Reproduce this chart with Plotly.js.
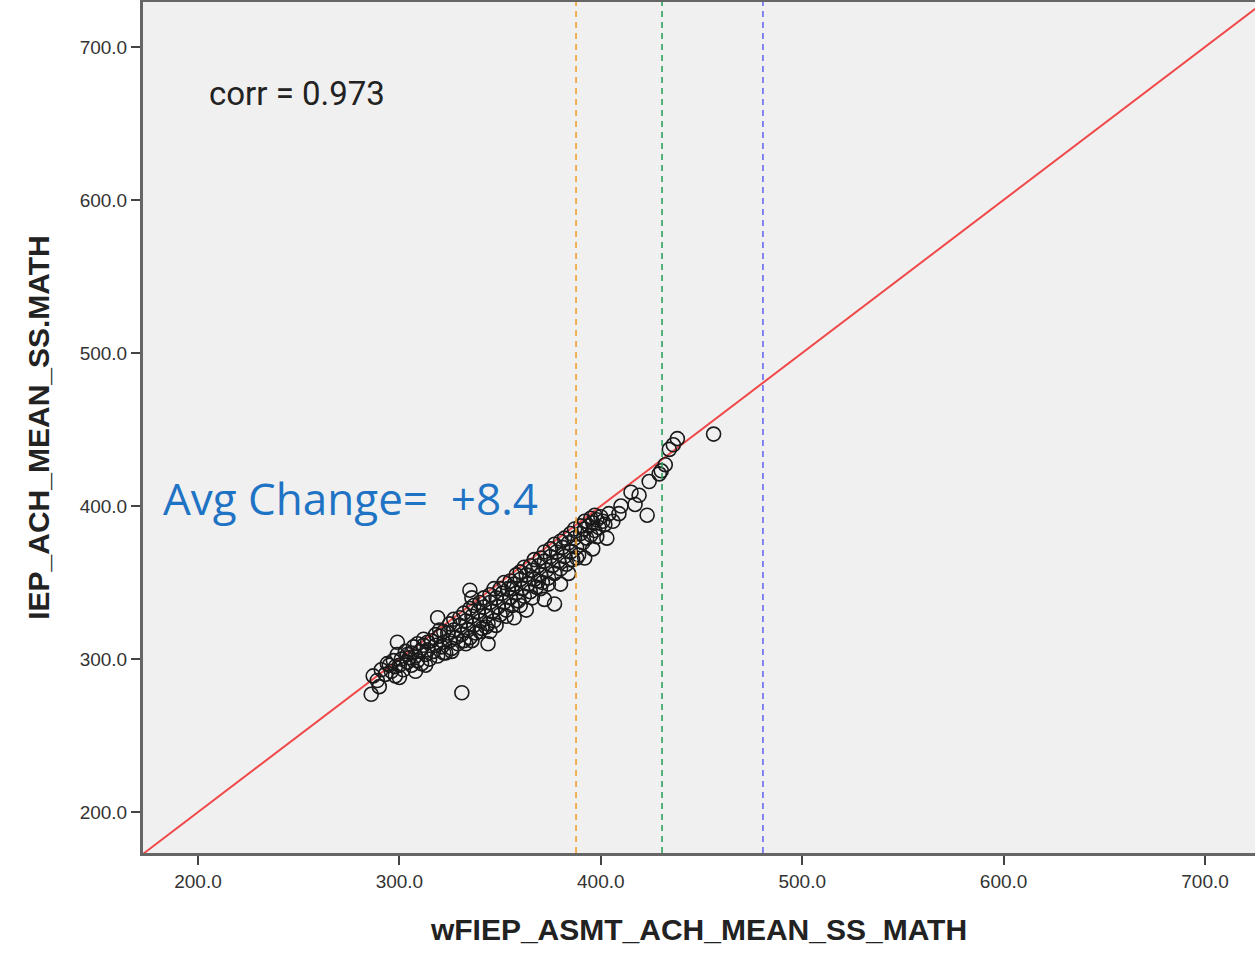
<!DOCTYPE html>
<html><head><meta charset="utf-8">
<script src="https://cdn.plot.ly/plotly-3.0.1.min.js"></script>
<style>html,body{margin:0;padding:0;background:#fff;}#chart{width:1255px;height:953px;}</style>
</head><body><div id="chart"></div>
<script>
// Scatter points: wFIEP (x) vs IEP (y)
const xVals = [
287,289,291,293,294,296,297,298,299,300,301,302,303,304,305,306,307,308,309,310,
311,312,313,314,315,316,317,318,319,320,321,322,323,324,325,326,327,328,329,330,
331,332,333,334,335,336,337,338,339,340,341,342,343,344,345,346,347,348,349,350,
351,352,353,354,355,356,357,358,359,360,361,362,363,364,365,366,367,368,369,370,
371,372,373,374,375,376,377,378,379,380,381,382,383,384,385,386,387,388,389,390,
391,392,393,394,395,396,397,398,399,400,402,404,406,
295,298,304,306,309,312,314,318,320,322,325,327,330,332,335,337,340,342,345,347,
350,352,355,358,360,362,365,367,370,372,375,377,380,382,385,387,390,392,395,397,
456,438,434,436,430,432,429,424,415,419,423,417,410,409,403,401,396,398,392,388,
377,380,372,369,344,336,345,331,286,290,300,299,319,336,335,322,356,384,343,374,
326,333,340,348,353,360,366,363,357,313,308,370];
const yVals = [
289,286,293,290,297,292,299,289,303,296,300,293,305,298,301,296,308,302,299,305,
297,309,303,306,300,312,305,309,302,315,308,311,304,317,312,307,319,314,310,322,
316,312,325,319,314,328,322,317,331,325,320,334,328,323,337,331,325,340,334,329,
343,337,332,346,340,335,349,343,338,352,346,341,355,349,344,358,352,347,361,355,
350,364,358,353,367,361,356,370,364,359,373,367,362,376,370,365,379,373,368,382,
376,385,379,387,381,389,384,391,386,393,388,395,390,
296,295,303,304,310,313,311,316,319,318,323,326,327,330,333,335,337,340,342,346,
346,350,351,355,357,360,361,365,366,370,372,375,377,379,382,385,387,390,392,394,
447,444,437,440,423,427,421,416,409,407,394,401,400,395,379,390,372,380,366,366,
336,349,339,351,310,312,318,278,277,282,288,311,327,340,345,304,346,356,321,349,
305,310,318,322,328,335,340,332,327,296,292,346];
const identityLine = [170, 730];
const orangeRef = 387.7, greenRef = 430.4, blueRef = 480.5;
const xTicks = [200, 300, 400, 500, 600, 700];
const yTicks = [200, 300, 400, 500, 600, 700];

const traces = [
  {x: identityLine, y: identityLine, mode: 'lines', line: {color: '#f04848', width: 2}, hoverinfo: 'skip'},
  {x: xVals, y: yVals, mode: 'markers', type: 'scatter',
   marker: {symbol: 'circle-open', size: 14, color: '#1a1a1a', line: {width: 1.6, color: '#1a1a1a'}}}
];
function vline(x, c) {
  return {type: 'line', xref: 'x', yref: 'paper', x0: x, x1: x, y0: 0, y1: 1,
          line: {color: c, width: 1.6, dash: '6px,5px'}};
}
const tickFont = {family: 'Liberation Sans, Arial, sans-serif', size: 19, color: '#333'};
const titleFont = {family: 'Liberation Sans, Arial, sans-serif', size: 30, color: '#222', weight: 'bold'};
const layout = {
  width: 1255, height: 953,
  margin: {l: 143, r: 0, t: 2, b: 100},
  paper_bgcolor: '#ffffff', plot_bgcolor: '#f0f0f0',
  showlegend: false,
  xaxis: {range: [172.7, 724.8], tickvals: xTicks, ticktext: xTicks.map(v => v.toFixed(1)),
          ticks: 'outside', ticklen: 9, tickwidth: 2, tickcolor: '#444',
          showline: true, linecolor: '#666', linewidth: 3, mirror: true,
          showgrid: false, zeroline: false, tickfont: tickFont,
          title: {text: 'wFIEP_ASMT_ACH_MEAN_SS_MATH', font: titleFont, standoff: 29}},
  yaxis: {range: [173.3, 729.3], tickvals: yTicks, ticktext: yTicks.map(v => v.toFixed(1)),
          ticks: 'outside', ticklen: 9, tickwidth: 2, tickcolor: '#444',
          showline: true, linecolor: '#666', linewidth: 3, mirror: true,
          showgrid: false, zeroline: false, tickfont: tickFont,
          title: {text: 'IEP_ACH_MEAN_SS.MATH', font: titleFont, standoff: 22}},
  shapes: [vline(orangeRef, '#f0a030'), vline(greenRef, '#2ea05a'), vline(blueRef, '#6a6af0')],
  annotations: [
    {xref: 'paper', yref: 'paper', x: 0.058, y: 0.893, xanchor: 'left', yanchor: 'middle', showarrow: false,
     text: 'corr = 0.973', font: {family: 'Roboto, sans-serif', size: 33, color: '#222'}},
    {xref: 'paper', yref: 'paper', x: 0.016, y: 0.417, xanchor: 'left', yanchor: 'middle', showarrow: false,
     text: 'Avg Change=  +8.4', font: {family: 'Open Sans, sans-serif', size: 44, color: '#1f73c4'}}
  ]
};
Plotly.newPlot('chart', traces, layout, {displayModeBar: false, staticPlot: true});
</script></body></html>
